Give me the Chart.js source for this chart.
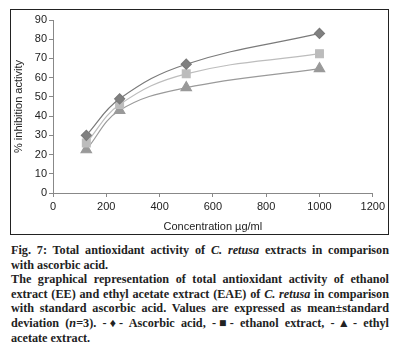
<!DOCTYPE html>
<html>
<head>
<meta charset="utf-8">
<script src="https://cdn.jsdelivr.net/npm/chart.js@4"></script>
<style>
  body { margin: 0; background: #fff; width: 404px; height: 360px; position: relative; overflow: hidden; }
  #box { position: absolute; left: 10px; top: 9px; width: 377px; height: 224px; border: 1.5px solid #222; }
  #wrap { position: absolute; left: 1px; top: 1px; width: 376px; height: 223px; }
  #caption { position: absolute; left: 11px; top: 243px; width: 378px; font-family: "Liberation Serif", serif; font-size: 12.2px; line-height: 14.6px; color: #222; }
  #caption span { display: block; text-align: justify; text-align-last: justify; white-space: nowrap; }
  #caption span.last { text-align-last: left; }
  .b { font-weight: bold; }
</style>
</head>
<body>
<div id="box"><div id="wrap"><canvas id="tac"></canvas></div></div>
<div id="caption">
  <span class="b">Fig. 7: Total antioxidant activity of <i>C. retusa</i> extracts in comparison</span>
  <span class="b last">with ascorbic acid.</span>
  <span class="b">The graphical representation of total antioxidant activity of ethanol</span>
  <span class="b">extract (EE) and ethyl acetate extract (EAE) of <i>C. retusa</i> in comparison</span>
  <span class="b">with standard ascorbic acid. Values are expressed as mean±standard</span>
  <span class="b">deviation (<i>n</i>=3). -♦- Ascorbic acid, -■- ethanol extract, -▲- ethyl</span>
  <span class="b last">acetate extract.</span>
</div>
<script>
const concentrations = [125, 250, 500, 1000];
const ascorbicAcid = [30, 49, 67, 83];
const ethanolExtract = [26, 46, 62, 72.5];
const ethylAcetateExtract = [22.5, 43, 54.8, 64.7];

function toPoints(values) {
    return concentrations.map((c, i) => ({ x: c, y: values[i] }));
}

const tacChart = new Chart(document.getElementById('tac'), {
    type: 'line',
    data: {
        datasets: [
            {
                label: 'Ascorbic acid',
                data: toPoints(ascorbicAcid),
                borderColor: '#7a7a7a',
                backgroundColor: '#808080',
                pointStyle: 'rectRot',
                pointRadius: 5,
                borderWidth: 1.2,
                tension: 0.4
            },
            {
                label: 'ethanol extract',
                data: toPoints(ethanolExtract),
                borderColor: '#bdbdbd',
                backgroundColor: '#bcbcbc',
                pointStyle: 'rect',
                pointRadius: 5.5,
                borderWidth: 1.2,
                tension: 0.4
            },
            {
                label: 'ethyl acetate extract',
                data: toPoints(ethylAcetateExtract),
                borderColor: '#9a9a9a',
                backgroundColor: '#999999',
                pointStyle: 'triangle',
                pointRadius: 6,
                borderWidth: 1.2,
                tension: 0.4
            }
        ]
    },
    options: {
        responsive: true,
        maintainAspectRatio: false,
        animation: false,
        layout: { padding: { left: 0, right: 15, top: 9, bottom: 0 } },
        plugins: { legend: { display: false }, tooltip: { enabled: false } },
        scales: {
            x: {
                type: 'linear',
                min: 0,
                max: 1200,
                ticks: { stepSize: 200, callback: v => v, color: '#222', padding: 3, font: { family: 'Liberation Sans', size: 11 } },
                grid: { drawOnChartArea: false, tickLength: 4, color: '#888' },
                border: { color: '#888' },
                title: { display: true, text: 'Concentration µg/ml', color: '#222', padding: { top: 1, bottom: 0 }, font: { family: 'Liberation Sans', size: 11 } },
                afterFit: scale => { scale.height = 41; }
            },
            y: {
                min: 0,
                max: 90,
                ticks: { stepSize: 10, color: '#222', padding: 2, font: { family: 'Liberation Sans', size: 11 } },
                grid: { drawOnChartArea: false, tickLength: 4, color: '#888' },
                border: { color: '#888' },
                title: { display: true, text: '% inhibition activity', color: '#222', padding: { top: 0, bottom: 4 }, font: { family: 'Liberation Sans', size: 11 } },
                afterFit: scale => { scale.width = 41; }
            }
        }
    }
});
</script>
</body>
</html>
